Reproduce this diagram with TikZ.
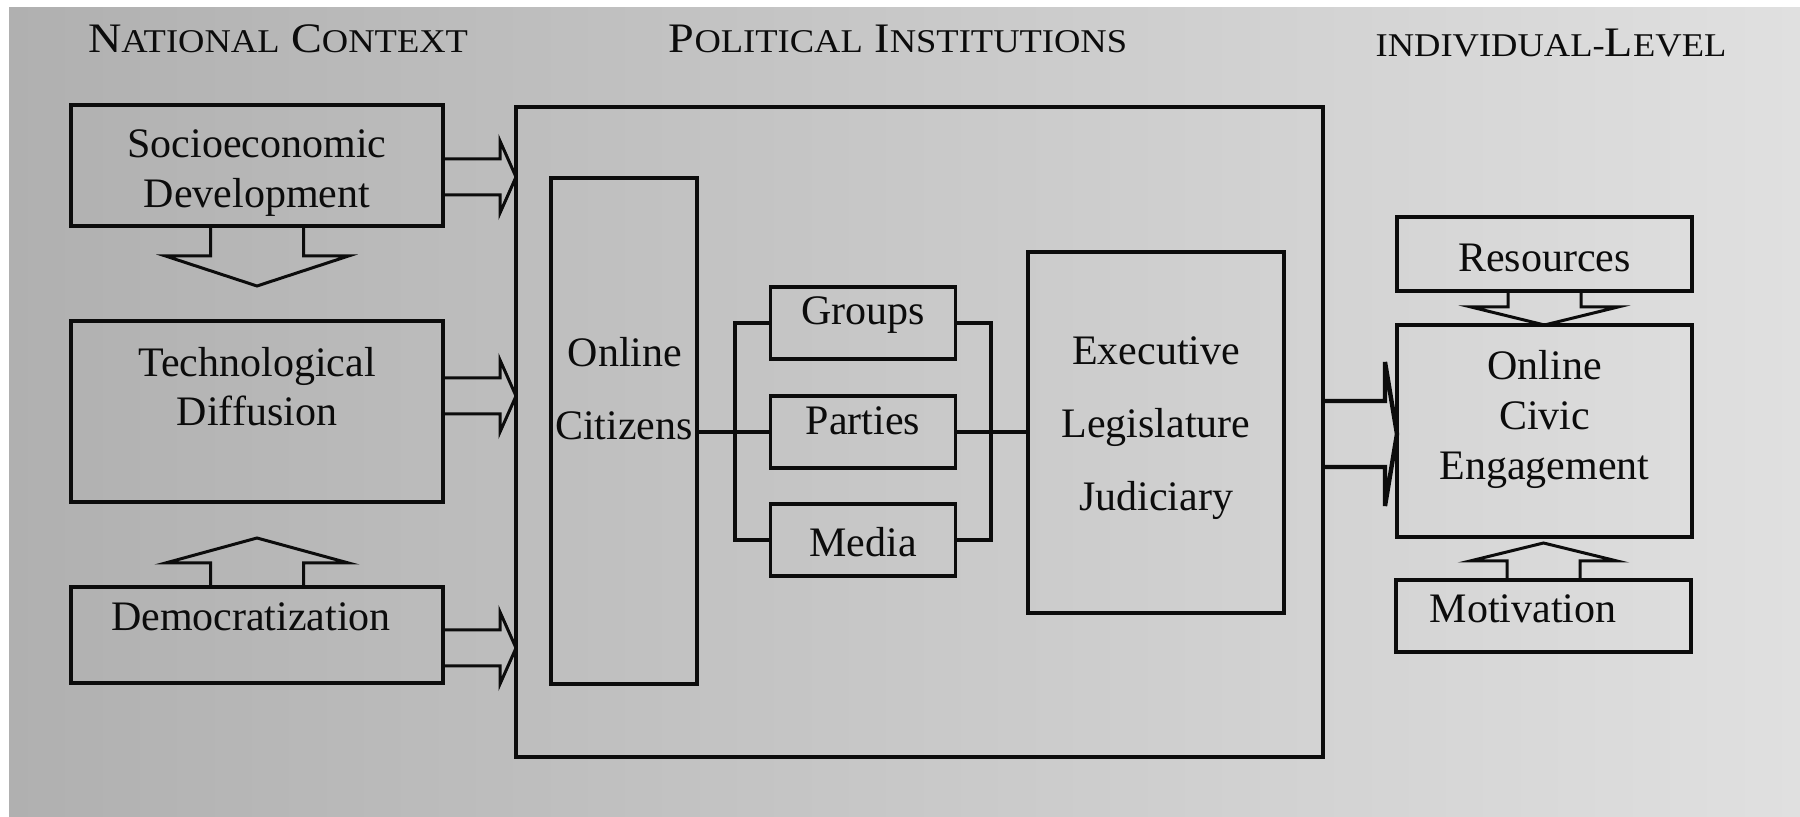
\documentclass[tikz,border=0pt]{standalone}
\usepackage{fontspec}
\usepackage{graphicx}
\setmainfont{Liberation Serif}
\usetikzlibrary{calc}
\definecolor{paperL}{RGB}{176,176,176}
\definecolor{paperM}{RGB}{200,200,200}
\definecolor{paperR}{RGB}{224,224,224}
\definecolor{ink}{RGB}{12,12,12}
\newcommand\tbig[1]{{\fontsize{21}{25}\selectfont #1}}
\newcommand\tsml[1]{{\fontsize{16.6}{20}\selectfont #1}}
% horizontal block arrow: start, tip, half shaft, head length, half head
\newcommand\hblock[5]{%
  \draw[blk] ($(#1)+(0,-#3)$) -- ($(#2)+(-#4,-#3)$) -- ($(#2)+(-#4,-#5)$) -- (#2)
    -- ($(#2)+(-#4,#5)$) -- ($(#2)+(-#4,#3)$) -- ($(#1)+(0,#3)$);}
% vertical block arrow: anchor, half stem, stem length (signed), half wing, tip offset (signed)
\newcommand\vblock[5]{%
  \draw[blk] ($(#1)+(-#2,0)$) -- ($(#1)+(-#2,#3)$) -- ($(#1)+(-#4,#3)$) -- ($(#1)+(0,#5)$)
    -- ($(#1)+(#4,#3)$) -- ($(#1)+(#2,#3)$) -- ($(#1)+(#2,0)$);}
\tikzset{
  box/.style 2 args={draw=ink, line width=1.7pt, inner sep=0pt, outer sep=0pt,
    minimum width=#1*0.5pt, minimum height=#2*0.5pt},
  con/.style={draw=ink, line width=1.6pt},
  blk/.style={draw=ink, line width=1.5pt, line join=miter},
  lbl/.style={anchor=base, inner sep=0pt, text=ink},
  ttl/.style={anchor=base, inner sep=0pt, text=ink},
}
\begin{document}
\begin{tikzpicture}[x=0.5pt, y=-0.5pt, font=\fontsize{21}{25}\selectfont]
\useasboundingbox (0,0) rectangle (1800,817);
\fill[white] (0,0) rectangle (1800,817);
\shade[left color=paperL, right color=paperR, middle color=paperM] (9,8) rectangle (1800,817);

% titles
\node[ttl] (tNat) at (278,53) {\scalebox{1.1}[1]{\tbig{N}\tsml{ATIONAL} \tbig{C}\tsml{ONTEXT}}};
\node[ttl] (tPol) at (898,53) {\scalebox{1.1}[1]{\tbig{P}\tsml{OLITICAL} \tbig{I}\tsml{NSTITUTIONS}}};
\node[ttl] (tInd) at (1551,57) {\scalebox{1.1}[1]{\tsml{INDIVIDUAL-}\tbig{L}\tsml{EVEL}}};

% national context boxes
\node[box={372}{121}] (socio) at (257,165.5) {};
\node[box={372}{181}] (tech) at (257,411.5) {};
\node[box={372}{96}] (dem) at (257,635) {};
\node[lbl] (socioA) at (257,158) {Socioeconomic};
\node[lbl] (socioB) at (257,208) {Development};
\node[lbl] (techA) at (257,377) {Technological};
\node[lbl] (techB) at (257,426) {Diffusion};
\node[lbl] (demA) at (251,631) {Democratization};

% political institutions
\node[box={807}{650}] (big) at (919.5,432) {};
\node[box={146}{506}] (cit) at (624,431) {};
\node[lbl] (citA) at (625,367) {Online};
\node[lbl] (citB) at (624,440) {Citizens};
\node[box={185}{72}] (groups) at (863,323) {};
\node[box={185}{72}] (parties) at (863,432) {};
\node[box={185}{72}] (media) at (863,540) {};
\node[lbl] (groupsT) at (863,325) {Groups};
\node[lbl] (partiesT) at (863,435) {Parties};
\node[lbl] (mediaT) at (863,557) {Media};
\node[box={256}{361}] (exec) at (1156,432.5) {};
\node[lbl] (execA) at (1156,365) {Executive};
\node[lbl] (execB) at (1156,438) {Legislature};
\node[lbl] (execC) at (1156,511) {Judiciary};

% individual level
\node[box={295}{74}] (res) at (1544.5,254) {};
\node[box={295}{212}] (civic) at (1544.5,431) {};
\node[box={295}{72}] (mot) at (1543.5,616) {};
\node[lbl] (resT) at (1544.5,272) {Resources};
\node[lbl] (civicA) at (1544.5,380) {Online};
\node[lbl] (civicB) at (1544.5,430) {Civic};
\node[lbl] (civicC) at (1544.5,480) {Engagement};
\node[lbl] (motT) at (1523,623) {Motivation};

% connectors inside political institutions
\coordinate (bl) at (735,0);
\coordinate (br) at (991,0);
\draw[con] (cit.east |- parties.west) -- (parties.west);
\draw[con] (groups.west) -- (groups.west -| bl) -- (media.west -| bl) -- (media.west);
\draw[con] (groups.east) -- (groups.east -| br) -- (media.east -| br) -- (media.east);
\draw[con] (parties.east) -- (parties.east -| exec.west);

% vertical block arrows
\vblock{socio.south}{46.5}{30}{91.5}{60}
\vblock{dem.north}{46.5}{-24}{91.5}{-49}
\vblock{res.south}{36.5}{16}{73.5}{34}
\vblock{mot.north}{36.5}{-19}{73.5}{-37}

% horizontal block arrows
\coordinate (y1) at (0,177);
\coordinate (y2) at (0,396);
\coordinate (y3) at (0,648);
\coordinate (y4) at (0,434);
\coordinate (s1) at (socio.east |- y1);
\coordinate (e1) at (big.west |- y1);
\coordinate (s2) at (tech.east |- y2);
\coordinate (e2) at (big.west |- y2);
\coordinate (s3) at (dem.east |- y3);
\coordinate (e3) at (big.west |- y3);
\coordinate (s4) at (big.east |- y4);
\coordinate (e4) at (civic.west |- y4);
\hblock{s1}{e1}{18}{16}{36}
\hblock{s2}{e2}{18}{16}{36}
\hblock{s3}{e3}{18}{16}{36}
\begin{scope}[blk/.append style={line width=2.2pt}]
\hblock{s4}{e4}{33}{12}{72}
\end{scope}
\end{tikzpicture}
\end{document}
